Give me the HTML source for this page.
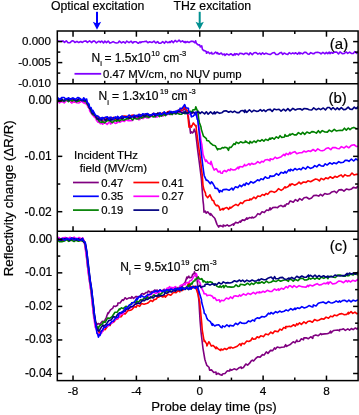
<!DOCTYPE html>
<html><head><meta charset="utf-8"><style>
html,body{margin:0;padding:0;background:#fff;}
svg{display:block;font-family:"Liberation Sans", sans-serif;}
text{stroke:#000;stroke-width:0.2px;}
</style></head><body>
<svg width="359" height="415" viewBox="0 0 359 415">
<rect width="359" height="415" fill="#fff"/>
<defs><clipPath id="ca"><rect x="57.3" y="31.0" width="300.8" height="52.8"/></clipPath><clipPath id="cb"><rect x="57.3" y="83.8" width="300.8" height="147.39999999999998"/></clipPath><clipPath id="cc"><rect x="57.3" y="231.2" width="300.8" height="149.40000000000003"/></clipPath><filter id="gs" x="0" y="0" width="359" height="415" filterUnits="userSpaceOnUse"><feOffset dx="0" dy="0"/></filter></defs>
<polyline points="57.30,40.72 58.77,41.24 60.88,41.25 62.92,40.92 64.50,42.36 66.30,40.84 68.05,42.81 69.99,42.63 72.05,40.87 73.48,41.00 74.86,42.50 76.96,41.40 78.70,42.56 80.74,41.50 82.09,42.47 83.84,41.34 85.84,40.91 87.39,42.43 89.59,40.86 91.76,42.55 93.13,41.12 94.51,40.93 96.34,42.99 98.54,41.29 100.00,41.49 100.23,42.40 101.78,40.98 103.51,42.93 104.88,41.05 106.43,42.62 108.18,41.04 109.97,43.11 111.53,42.49 113.09,41.66 114.64,42.46 116.40,43.02 118.01,42.68 119.38,41.16 121.48,42.88 123.33,41.72 125.26,43.14 126.78,41.09 129.02,42.69 131.15,41.19 132.61,43.01 134.26,41.75 136.25,41.82 138.25,43.28 140.00,41.78 140.44,42.72 142.17,41.79 144.26,41.58 146.22,41.17 147.84,42.73 149.72,41.79 151.86,42.56 153.98,41.11 155.78,42.99 157.66,41.63 159.04,43.23 160.61,43.28 162.68,41.70 164.40,43.28 165.91,41.34 167.75,42.73 169.73,41.63 170.00,42.59 171.69,40.89 173.38,42.58 175.12,40.46 176.93,41.84 178.98,40.43 179.00,39.98 180.80,41.89 182.50,40.81 184.29,42.40 185.00,41.48 185.67,42.74 187.06,41.57 189.04,42.48 191.28,41.17 193.16,41.40 194.87,42.76 195.60,40.74 196.37,43.38 198.17,44.94 199.50,44.69 200.41,46.84 201.70,45.78 202.45,49.37 203.90,50.73 204.28,50.53 206.20,51.42 206.41,53.28 207.97,51.90 209.78,53.61 211.70,52.38 211.99,53.98 213.86,53.69 215.62,51.98 217.21,53.63 217.30,52.47 219.06,54.17 221.27,53.00 222.62,54.64 224.68,54.01 225.00,55.47 226.77,53.86 228.91,55.01 230.93,53.76 233.01,55.33 234.83,53.64 235.00,55.01 236.68,53.71 238.41,54.97 239.81,53.22 241.95,53.59 243.81,54.40 245.34,53.22 247.14,53.40 248.93,54.77 250.00,52.84 250.60,53.08 252.26,54.58 254.10,52.69 256.01,52.59 257.91,54.12 259.67,53.14 261.05,54.55 262.60,52.77 264.11,54.21 265.99,53.15 268.11,53.95 270.18,54.53 272.25,53.03 274.34,52.49 275.92,54.47 278.02,54.37 279.98,52.85 281.40,52.43 282.77,54.45 284.13,53.04 286.16,53.91 287.74,54.54 289.19,52.67 291.10,53.87 292.76,52.92 294.17,53.77 295.66,52.76 297.49,54.23 298.99,52.43 300.00,53.95 300.59,52.85 302.58,53.89 304.33,52.40 305.97,52.24 307.75,54.00 309.12,54.20 310.82,52.63 312.55,53.65 314.07,53.63 315.52,52.44 317.68,52.25 319.49,52.70 321.02,53.89 322.92,52.38 325.00,53.80 326.37,52.38 327.74,53.59 329.22,52.08 330.00,53.71 331.22,52.36 332.71,53.29 334.70,52.14 336.66,51.94 338.50,53.97 340.04,51.88 342.27,53.73 344.34,53.36 346.16,51.96 347.71,53.35 349.64,52.09 351.35,53.34 353.21,53.45 354.85,51.62 356.77,53.33 358.00,51.78" fill="none" stroke="#8000ff" stroke-width="1.6" stroke-linejoin="round" clip-path="url(#ca)"/>
<polyline points="57.30,101.58 59.58,99.30 61.70,101.23 63.99,100.86 65.86,99.84 68.41,100.88 70.96,99.00 73.33,99.49 75.16,101.32 77.38,99.52 79.39,101.20 81.32,99.58 83.80,101.26 84.01,99.49 86.70,100.92 86.76,102.68 88.46,105.27 89.60,108.72 91.06,109.44 92.50,113.55 93.37,113.09 95.44,117.06 95.50,115.80 97.40,118.90 98.40,118.08 99.79,120.24 101.95,118.60 102.30,120.91 104.35,121.07 106.73,119.29 108.53,118.57 110.00,120.39 111.02,118.53 113.75,119.97 116.47,118.51 117.00,120.11 118.79,119.40 120.49,117.37 122.14,119.35 123.94,116.97 126.63,117.55 128.61,118.90 130.66,116.65 133.30,116.14 135.30,116.32 137.55,117.79 139.68,115.63 140.00,115.75 141.40,116.91 143.69,115.19 146.27,114.57 148.10,116.92 149.99,114.79 152.10,116.21 153.79,114.60 155.98,113.87 158.53,115.69 160.00,115.05 160.91,115.53 163.14,113.22 165.73,114.38 167.55,113.07 169.82,112.76 170.00,114.21 171.88,114.26 174.20,112.22 175.97,113.24 176.00,111.55 178.47,112.31 180.23,110.30 182.06,111.49 184.60,108.23 185.00,109.70 187.29,111.52 188.00,114.07 189.42,123.66 190.50,133.15 191.53,131.91 192.50,132.86 193.45,131.90 194.30,129.14 195.40,132.35 195.50,131.33 197.73,150.42 199.57,164.52 201.00,175.95 201.35,178.50 203.00,200.53 203.51,204.69 204.00,212.17 205.34,211.14 206.20,213.19 207.70,211.81 210.25,215.06 210.60,213.54 212.76,216.22 214.30,217.80 214.94,218.63 216.97,224.37 218.70,227.15 219.10,225.88 220.75,225.65 223.00,226.85 223.19,225.10 225.20,225.98 227.20,224.84 228.94,226.09 231.08,225.17 233.37,223.92 233.50,225.29 235.45,222.36 238.06,223.04 240.20,220.99 240.45,222.10 242.37,219.90 244.60,220.35 246.90,217.87 247.25,219.24 249.47,217.53 251.78,218.06 252.00,217.00 253.50,217.91 255.69,216.65 257.85,213.63 259.94,214.56 262.05,211.73 264.34,212.58 266.59,209.94 268.77,210.51 270.00,207.73 270.61,209.77 272.74,207.65 275.46,207.19 277.56,207.70 279.25,206.13 280.91,205.43 283.15,206.79 284.85,205.20 285.00,206.44 286.60,203.88 288.37,204.07 290.00,201.10 290.52,200.99 293.26,202.25 295.45,199.55 297.60,201.12 299.73,198.57 301.93,200.09 304.08,197.77 306.52,197.29 309.16,199.04 311.58,197.99 313.70,195.59 316.06,195.17 318.71,196.08 320.53,194.42 322.44,195.87 324.77,193.53 327.18,194.31 329.53,193.83 331.83,191.97 334.39,191.21 336.57,192.79 339.11,189.83 341.82,189.62 343.95,191.19 346.54,188.94 348.98,189.71 351.61,188.90 353.31,187.39 355.96,188.09 358.00,186.21" fill="none" stroke="#800080" stroke-width="1.6" stroke-linejoin="round" clip-path="url(#cb)"/>
<polyline points="57.30,100.37 59.45,101.45 61.71,100.27 64.38,101.51 66.54,99.80 68.75,100.01 71.05,101.92 72.90,100.58 75.11,102.22 77.46,99.73 79.98,101.97 81.73,99.95 83.72,102.30 83.80,100.11 85.47,103.25 86.70,101.77 88.01,106.73 89.60,107.79 90.42,108.97 92.11,114.06 92.50,114.51 94.85,115.68 95.50,118.14 97.56,116.65 98.40,116.61 99.93,118.90 102.25,117.77 102.30,119.85 104.08,117.60 105.74,119.59 107.97,118.03 109.69,119.45 110.00,117.37 111.55,118.85 113.46,117.26 115.15,118.65 117.00,118.92 117.31,116.70 119.44,118.67 122.02,116.63 124.24,115.96 126.59,116.19 128.79,117.38 131.17,115.61 133.33,115.07 135.28,117.28 138.03,115.20 140.00,116.18 140.77,114.70 143.35,116.06 145.78,113.83 147.77,113.99 149.68,115.03 151.65,114.85 153.37,113.35 155.87,115.13 157.96,113.31 160.00,114.04 160.54,114.17 162.61,112.89 165.32,113.81 167.90,111.73 169.55,111.26 170.00,113.04 171.43,111.81 174.08,112.97 176.00,111.45 176.25,112.60 178.98,109.90 181.06,110.98 181.80,108.49 182.79,108.58 185.14,106.69 185.20,108.50 187.60,110.78 187.64,113.31 189.00,127.12 189.59,126.96 191.00,125.92 191.33,127.28 193.35,122.96 194.30,124.21 195.80,126.28 196.06,125.45 196.30,129.22 198.55,146.08 200.32,158.24 202.00,173.09 202.25,175.08 203.00,185.55 204.01,189.90 205.50,193.19 205.72,195.27 207.70,197.65 208.25,196.97 210.00,194.86 210.10,195.40 212.36,200.44 213.60,200.55 214.50,203.54 216.36,205.78 217.30,205.26 218.82,206.36 220.20,210.16 220.61,209.87 222.97,208.43 223.00,209.85 224.75,208.33 226.86,207.59 228.74,209.30 230.00,207.16 230.69,208.17 233.41,205.87 235.94,204.39 237.93,205.65 240.00,203.22 240.55,202.54 242.43,203.59 244.52,201.01 247.11,200.29 249.46,200.15 250.00,198.90 251.22,199.76 253.96,197.18 255.85,198.54 257.78,195.96 260.28,196.52 262.29,194.47 264.27,195.34 266.00,193.44 267.75,194.34 270.00,191.73 270.04,191.64 271.96,191.37 274.27,192.36 276.33,191.25 278.47,188.66 281.18,190.32 283.36,188.84 285.00,186.75 285.64,187.88 288.25,186.56 290.00,184.20 290.10,185.70 291.92,183.80 294.57,185.15 297.12,183.99 299.04,182.09 300.90,183.87 303.36,181.99 306.05,182.41 307.91,180.81 310.61,181.74 313.23,180.20 315.54,179.09 317.66,179.55 319.42,180.98 321.11,178.35 323.82,179.80 325.73,177.88 328.16,178.65 330.09,176.76 332.65,178.29 334.95,176.34 336.93,177.30 338.77,176.05 341.21,174.92 342.94,176.92 344.84,174.67 347.10,175.89 349.69,175.73 352.02,172.99 353.98,174.98 356.64,174.19 358.00,174.39" fill="none" stroke="#ff0000" stroke-width="1.6" stroke-linejoin="round" clip-path="url(#cb)"/>
<polyline points="57.30,100.79 59.47,102.92 61.85,101.27 64.23,102.90 66.04,100.96 67.70,100.88 69.76,100.78 71.71,103.11 74.25,101.52 76.66,102.67 78.97,103.02 81.24,101.04 83.61,102.88 83.80,101.25 85.42,103.77 86.70,102.79 87.56,106.05 89.39,108.34 89.60,110.79 92.03,114.54 92.50,113.77 93.75,116.65 95.50,117.50 96.30,120.05 98.03,122.26 98.40,121.76 100.44,123.65 102.30,122.07 102.46,124.32 104.55,122.46 107.13,124.39 108.80,122.41 110.00,122.05 110.52,124.00 113.17,121.97 115.38,123.37 117.00,123.02 117.13,121.40 119.87,122.35 122.56,120.51 124.33,121.46 126.45,119.72 128.25,120.74 130.24,120.64 132.58,120.54 134.41,118.13 136.82,118.24 138.53,119.62 140.00,119.35 140.37,117.59 142.91,118.59 145.00,116.91 147.12,118.07 149.42,117.51 151.60,116.01 153.67,115.45 155.35,117.21 157.80,116.82 160.00,114.29 160.52,115.77 163.24,115.94 165.62,113.19 167.66,114.69 169.71,113.12 170.00,114.66 172.12,112.77 174.51,113.68 176.00,113.74 176.29,111.78 178.19,113.53 180.24,111.68 182.46,111.73 185.00,113.32 187.20,112.44 188.88,114.57 191.40,113.86 191.43,113.65 193.56,112.65 194.00,112.49 195.78,113.99 197.30,111.92 197.67,115.45 198.80,125.49 199.79,131.31 201.00,140.62 201.87,144.68 203.00,154.37 204.37,158.33 205.60,161.42 206.13,160.08 208.39,163.24 210.23,162.98 210.30,164.48 211.00,161.33 212.65,166.77 214.20,170.09 214.34,169.79 216.29,168.78 218.32,171.99 220.00,171.20 220.67,172.97 222.38,173.28 223.00,171.56 224.53,170.51 226.41,171.75 228.37,169.66 230.00,170.60 230.55,168.90 233.25,170.00 235.43,169.60 238.13,167.03 238.50,168.76 239.97,166.54 242.63,166.92 244.68,164.40 245.00,165.71 246.54,165.48 249.02,163.63 250.00,165.05 251.67,163.26 253.33,164.29 255.27,163.83 257.77,161.64 259.80,163.05 261.71,161.33 263.37,161.91 265.06,159.94 267.40,159.56 270.00,160.79 270.13,158.80 272.88,159.53 275.08,157.20 276.76,158.39 278.76,157.65 281.28,156.69 283.84,154.30 285.00,155.67 286.20,153.42 288.10,154.64 290.00,152.35 290.33,153.98 292.50,152.60 294.84,151.64 296.78,153.79 299.47,152.74 302.11,152.68 303.94,151.08 305.91,151.91 308.52,150.68 310.47,151.49 313.16,149.50 315.38,151.22 317.79,148.87 320.22,150.43 322.10,150.84 324.07,150.26 326.00,148.61 328.40,147.81 330.81,149.73 332.61,147.54 335.23,147.62 337.34,148.43 339.26,148.80 341.39,146.62 344.12,147.93 346.38,146.08 348.72,147.79 351.38,145.36 354.09,144.74 356.58,146.55 358.00,146.23" fill="none" stroke="#ff00ff" stroke-width="1.6" stroke-linejoin="round" clip-path="url(#cb)"/>
<polyline points="57.30,99.51 59.23,101.43 61.64,99.91 64.04,101.39 66.63,99.42 68.48,101.74 70.38,99.93 72.20,101.02 74.09,99.88 76.55,101.79 78.34,101.03 80.58,100.09 82.46,99.92 83.80,99.71 84.44,101.39 86.56,101.13 86.70,103.23 89.13,106.72 89.60,107.82 91.45,112.46 92.50,114.06 93.12,114.73 95.07,115.33 95.50,115.59 96.88,119.27 98.40,119.77 99.49,121.81 102.03,122.40 102.30,121.36 104.57,122.82 107.13,120.70 109.60,120.41 110.00,120.92 112.29,122.56 114.81,120.44 116.75,121.34 117.00,119.52 119.33,121.14 121.52,119.41 124.00,120.30 126.27,118.88 128.39,118.67 130.44,117.85 132.56,120.02 134.56,117.63 136.34,119.03 138.89,118.75 140.00,117.00 141.42,118.11 144.15,116.78 146.56,116.35 148.82,117.54 151.30,115.11 153.09,116.95 155.49,116.36 157.63,114.53 159.47,116.54 160.00,114.04 161.34,116.17 163.57,114.25 165.50,115.64 167.65,113.26 169.97,114.37 170.00,113.36 172.05,114.61 173.85,112.74 176.00,114.13 176.04,111.88 177.95,113.56 179.86,114.30 181.72,114.18 183.77,111.97 185.00,113.93 185.50,112.42 187.87,113.52 190.57,111.23 192.00,112.86 192.65,110.08 195.09,109.63 195.80,106.79 197.50,111.24 197.76,110.48 199.00,121.00 199.46,122.74 201.00,127.04 201.27,129.11 203.40,136.10 203.80,136.40 206.38,138.61 206.70,140.46 208.73,140.86 210.56,143.29 211.70,143.98 212.66,145.02 215.27,145.69 217.60,149.79 217.89,148.76 220.42,149.06 222.30,147.52 223.40,148.03 224.89,147.19 226.95,147.79 228.50,150.33 229.39,147.35 231.19,147.37 233.91,143.67 235.20,144.50 236.22,142.17 238.66,143.52 240.55,141.74 242.88,142.83 245.17,142.15 245.20,141.02 247.47,142.51 249.51,143.67 250.00,141.37 251.96,142.82 253.99,140.99 255.96,142.46 257.79,140.33 260.20,141.27 261.97,139.62 263.87,141.20 265.59,139.21 267.95,140.40 270.00,138.13 270.21,139.25 272.46,137.76 274.15,139.23 276.29,136.84 278.31,138.20 280.07,135.69 281.72,137.36 284.47,136.93 285.00,134.61 286.25,136.29 288.23,135.88 290.00,134.09 290.18,135.18 292.48,133.62 294.22,134.86 296.39,134.84 298.44,132.62 301.01,134.36 302.66,132.28 304.68,134.34 306.88,132.04 309.60,133.29 311.81,131.64 313.99,131.85 316.37,133.12 318.35,130.71 320.03,132.81 322.23,130.61 324.89,132.02 327.35,132.10 329.28,130.09 331.68,131.66 334.27,129.35 336.20,130.98 338.50,130.52 340.54,130.29 342.46,130.56 344.43,128.22 346.30,130.14 348.34,127.98 350.03,129.55 352.12,127.97 353.86,127.40 356.34,128.78 358.00,128.77" fill="none" stroke="#008000" stroke-width="1.6" stroke-linejoin="round" clip-path="url(#cb)"/>
<polyline points="57.30,98.98 59.07,100.09 61.49,98.51 63.86,100.74 66.54,98.60 68.49,100.26 70.42,98.68 72.88,98.32 75.25,100.51 77.24,100.38 79.64,98.32 81.73,100.78 83.80,100.64 84.23,100.22 86.01,100.20 86.70,102.04 87.91,103.41 89.60,108.40 90.55,108.00 92.50,113.37 92.59,111.20 94.53,114.93 95.50,116.30 97.06,118.39 98.40,119.57 99.41,117.84 101.22,120.29 102.30,118.79 103.48,118.16 105.86,120.52 107.69,118.08 110.00,120.41 110.06,118.41 111.84,120.13 113.86,117.80 115.61,117.87 117.00,118.92 117.48,119.27 120.21,117.29 122.30,118.52 125.04,117.00 127.17,116.78 129.49,118.32 132.10,116.44 134.51,117.61 136.28,115.31 138.58,116.75 140.00,115.04 140.92,116.47 142.77,114.70 144.53,116.49 147.14,114.21 149.35,115.91 151.22,115.55 153.37,113.69 155.26,115.64 157.78,113.01 159.98,114.53 160.00,112.99 161.75,114.76 164.30,112.22 166.05,114.39 168.00,112.19 169.69,113.35 170.00,111.59 172.15,113.38 173.92,111.53 176.00,113.01 176.15,113.20 177.91,111.21 180.08,111.61 182.49,113.11 184.73,113.04 185.00,111.39 186.88,113.73 189.06,111.89 191.19,113.20 193.50,111.99 195.25,113.93 197.42,111.78 199.33,112.37 200.00,113.58 201.93,111.93 204.62,113.88 206.34,111.82 208.15,114.15 210.57,111.93 212.85,113.90 214.52,111.79 215.00,113.82 216.95,111.98 219.63,113.33 221.75,112.75 222.00,112.70 223.78,111.13 226.06,110.76 228.74,112.19 230.68,111.29 232.66,112.36 234.52,111.08 236.86,112.59 239.03,112.63 240.96,110.79 243.04,110.49 244.73,112.35 245.00,109.94 246.72,112.39 249.45,109.79 251.75,111.98 253.71,110.28 256.39,111.34 258.43,111.22 260.36,109.69 262.05,111.18 263.86,109.93 265.73,111.53 267.63,109.72 270.24,109.40 272.18,111.50 274.10,109.04 276.42,109.69 279.08,109.22 281.05,111.17 283.53,109.22 285.59,110.95 287.86,108.64 290.00,110.88 290.16,110.84 292.85,108.32 295.33,109.99 297.54,109.03 300.12,108.71 302.17,110.00 304.24,108.43 306.95,108.85 309.20,109.82 311.70,109.94 313.70,107.87 316.35,109.80 318.68,108.40 320.60,109.62 323.28,108.00 325.44,109.93 327.46,107.57 329.40,107.55 331.17,109.56 333.04,107.54 335.45,109.74 337.25,107.90 339.19,109.64 341.33,107.70 343.58,109.64 345.65,109.45 348.16,107.17 350.09,109.13 352.15,109.48 354.27,107.10 356.06,108.67 357.95,106.96 358.00,108.89" fill="none" stroke="#000080" stroke-width="1.6" stroke-linejoin="round" clip-path="url(#cb)"/>
<polyline points="57.30,97.39 60.01,99.60 61.67,97.51 64.13,97.51 65.96,99.39 68.69,97.77 70.36,99.40 72.98,98.00 75.38,99.31 77.97,97.47 80.72,99.20 82.64,99.79 83.80,97.74 84.66,99.54 86.70,99.00 87.09,102.33 89.04,104.04 89.60,107.28 90.98,107.58 92.50,112.15 92.89,110.37 95.48,115.21 95.50,115.14 98.09,116.25 98.40,116.57 100.62,118.66 102.30,117.38 102.51,119.13 105.18,117.39 107.39,116.86 109.30,119.36 110.00,117.41 111.45,117.42 113.56,119.07 115.30,116.81 117.00,118.26 117.57,116.30 119.62,118.33 121.89,116.01 124.57,117.25 126.93,117.27 129.02,114.99 131.62,116.87 134.37,115.14 136.56,116.37 139.24,114.23 140.00,115.86 140.92,115.89 142.72,113.75 144.56,114.26 147.24,113.50 149.65,115.21 152.09,114.60 154.06,113.29 156.25,114.95 158.88,114.44 160.00,112.61 160.64,114.23 162.41,114.12 164.12,111.94 166.28,113.79 168.86,113.47 170.00,111.51 171.12,111.43 173.21,112.48 175.41,111.25 176.00,112.40 177.26,110.46 179.95,110.06 180.00,108.39 181.99,108.48 183.90,105.74 184.70,104.56 185.89,107.85 188.45,108.30 188.50,110.47 190.45,112.73 191.40,116.86 193.09,116.33 193.80,115.31 195.11,114.75 195.80,112.07 197.25,119.32 197.60,119.01 198.98,130.76 200.00,141.17 201.63,155.97 203.30,169.23 204.16,175.47 204.80,176.90 206.33,180.33 207.00,180.06 208.10,180.96 210.30,183.72 210.60,183.67 211.40,181.79 212.36,182.67 214.93,187.07 215.00,188.12 217.60,188.63 219.50,192.32 220.07,190.40 222.04,191.69 223.00,189.72 223.73,189.62 226.36,189.33 229.05,190.26 230.88,188.83 231.80,188.03 233.08,189.96 235.26,186.84 237.98,187.64 239.68,185.15 241.40,186.58 243.97,184.12 245.00,185.46 246.25,182.86 248.41,184.44 250.91,181.61 253.22,183.03 255.63,181.50 257.56,179.82 259.30,180.73 260.96,178.75 262.98,179.63 265.34,176.85 267.41,178.30 269.44,177.68 270.00,175.83 271.77,176.36 274.20,175.88 276.50,173.47 278.50,175.27 281.05,172.35 283.58,173.20 285.00,171.41 286.21,173.00 288.85,169.82 290.00,171.05 290.51,169.30 292.90,170.62 294.93,168.47 297.01,169.88 299.23,168.62 301.04,169.77 302.96,167.38 305.70,169.08 307.71,166.56 310.37,168.44 312.77,167.61 314.76,165.59 316.76,166.92 319.08,164.47 321.50,166.06 323.53,166.09 325.24,163.85 327.08,165.05 329.68,162.80 332.13,164.15 333.90,162.71 336.47,163.69 338.75,161.65 340.77,162.76 343.40,162.24 345.19,160.36 346.95,160.29 348.98,161.33 351.44,159.03 353.69,161.01 355.88,158.89 358.00,160.41" fill="none" stroke="#0000ff" stroke-width="1.6" stroke-linejoin="round" clip-path="url(#cb)"/>
<polyline points="57.30,238.50 59.54,240.47 61.51,238.88 63.19,239.99 65.56,238.55 67.44,239.98 69.38,238.64 71.46,240.41 73.82,239.00 76.56,240.10 78.72,238.79 81.46,240.55 82.80,240.51 84.20,241.63 84.60,243.99 86.12,252.06 86.20,252.58 87.85,268.97 88.20,269.92 89.67,282.06 90.20,284.40 91.20,293.01 92.25,300.75 93.40,313.02 94.56,317.79 95.00,321.97 96.60,323.43 97.22,324.68 98.40,323.50 99.94,324.26 102.31,321.30 103.90,321.70 104.55,320.82 106.27,317.51 107.95,312.84 108.10,313.72 110.48,309.87 112.87,308.05 113.70,305.98 115.36,306.43 117.63,305.22 117.90,303.02 120.02,303.04 122.38,299.73 123.40,300.39 125.00,297.96 125.01,297.72 126.78,299.14 128.98,297.82 130.97,298.33 131.80,296.61 133.53,298.43 136.10,296.43 136.14,296.41 138.07,296.90 139.81,296.20 141.73,293.85 142.80,293.50 143.72,294.44 146.22,292.38 147.30,292.87 148.32,290.98 150.80,292.44 151.70,291.61 152.78,291.73 155.00,290.00 156.20,292.13 156.86,289.97 159.22,291.58 160.00,289.86 161.43,291.45 164.03,289.26 166.72,290.59 168.95,289.00 170.00,290.28 170.67,288.45 173.35,289.46 176.04,287.96 178.21,287.56 180.00,289.04 180.40,286.91 182.50,286.18 183.07,284.49 185.00,282.69 186.90,277.12 186.93,278.66 188.80,276.14 189.35,277.65 190.70,277.63 191.74,277.16 192.60,274.51 194.15,273.46 194.40,271.84 196.30,276.32 196.71,278.17 197.60,283.93 198.60,298.02 198.92,301.25 200.10,320.97 201.03,331.87 202.30,342.77 202.93,348.02 204.82,359.25 205.50,361.49 206.87,365.45 209.00,367.24 209.60,370.20 211.46,369.88 213.79,372.45 216.00,372.05 216.30,374.42 218.07,373.28 220.41,374.75 222.00,375.30 222.48,373.92 225.01,373.41 227.37,370.77 229.78,370.95 230.00,369.34 231.84,370.16 234.06,368.86 236.50,369.77 239.21,367.72 241.00,366.93 241.44,368.37 243.44,367.42 245.85,363.97 247.63,365.13 249.65,363.20 251.33,360.80 252.30,360.18 253.59,360.97 255.52,358.71 257.60,356.81 260.12,357.14 262.47,354.60 263.40,354.94 264.16,355.07 266.30,351.89 267.95,353.37 270.51,350.36 272.71,350.62 274.50,347.92 275.29,349.15 277.23,347.03 279.79,347.86 281.59,347.21 284.19,346.97 285.70,344.66 286.27,346.43 288.00,345.59 290.66,344.17 293.23,341.74 295.09,342.91 296.80,340.06 297.38,341.48 299.55,341.19 301.36,338.80 303.48,339.83 303.90,337.85 306.20,337.76 308.27,338.79 310.75,336.75 312.80,338.33 313.24,335.97 315.73,334.96 318.06,335.80 320.70,333.65 321.70,334.59 322.73,334.08 324.90,333.85 327.04,333.81 328.81,333.31 330.70,331.01 330.99,333.03 333.48,330.45 335.76,330.22 337.61,330.07 339.53,330.85 339.60,329.55 341.71,329.52 343.47,328.84 345.34,330.41 347.81,328.92 349.58,330.20 351.35,328.46 353.18,329.58 355.40,327.97 357.07,329.10 358.00,327.64" fill="none" stroke="#800080" stroke-width="1.6" stroke-linejoin="round" clip-path="url(#cc)"/>
<polyline points="57.30,239.08 58.96,240.61 60.74,238.79 62.82,240.85 65.22,238.92 67.02,239.22 68.80,240.84 70.70,239.10 73.19,239.12 75.00,240.34 77.46,238.85 79.84,240.81 81.64,239.23 82.80,240.56 83.88,240.16 85.10,243.51 86.02,247.98 86.70,253.76 88.13,265.51 88.70,272.00 90.70,284.27 90.87,287.22 91.70,291.44 92.63,301.53 93.90,311.37 94.30,315.34 95.50,321.33 96.80,330.15 96.98,328.49 99.07,332.01 99.30,333.93 100.94,331.12 102.96,331.08 103.00,329.05 105.01,329.73 107.71,326.00 109.59,324.26 110.00,325.57 111.48,322.51 113.77,322.10 116.02,319.33 118.00,318.81 118.72,317.01 121.30,316.68 123.34,313.42 125.00,313.94 125.21,313.94 127.78,310.78 130.52,310.30 132.20,309.32 134.66,306.39 136.10,307.39 137.27,305.09 139.63,306.38 141.52,303.60 144.05,304.27 146.50,303.59 147.30,303.28 148.36,302.75 150.72,300.41 152.61,301.43 154.00,299.51 154.31,299.86 156.33,299.09 158.34,295.59 158.40,297.32 160.43,295.82 162.79,297.02 165.00,295.65 165.36,297.20 168.07,294.14 170.79,295.21 173.54,292.22 176.05,292.80 178.04,290.65 179.89,291.81 180.00,290.06 182.22,290.52 184.47,288.59 185.00,288.18 186.86,286.92 188.62,283.17 188.80,282.70 190.48,287.10 191.00,286.42 193.14,288.02 194.00,286.18 195.45,286.98 196.50,289.42 197.40,292.52 197.87,293.82 199.60,301.45 199.62,301.10 201.71,323.02 202.30,330.47 204.20,341.56 204.36,340.03 206.73,344.10 206.90,345.92 208.80,341.73 209.47,342.49 211.34,346.16 212.30,345.65 213.49,345.67 216.02,348.62 216.30,347.00 218.16,348.83 220.67,350.53 221.00,349.09 222.94,349.92 224.72,348.45 226.48,349.55 229.21,347.26 230.00,348.30 230.99,347.08 232.86,348.12 234.87,347.29 237.31,346.24 239.90,343.74 241.00,345.64 242.07,343.26 244.27,343.98 246.79,341.05 248.74,341.49 250.80,340.48 252.30,337.96 253.13,339.10 255.48,338.87 257.17,336.80 258.94,337.68 260.74,335.84 263.19,336.58 263.40,336.77 265.60,333.96 268.32,334.82 270.82,332.14 272.75,333.48 274.50,331.16 275.24,331.15 277.97,331.70 280.01,329.10 281.67,330.13 283.73,327.57 285.69,328.37 285.70,326.62 287.54,326.66 289.24,326.15 291.02,326.71 293.63,324.75 295.33,326.10 296.80,323.59 297.66,324.91 299.53,322.79 301.40,324.44 303.95,321.91 305.93,323.37 307.78,321.50 309.93,321.04 312.34,322.30 312.80,321.70 314.57,319.60 317.17,320.77 319.26,320.04 321.48,318.60 323.92,319.17 326.08,317.13 328.52,318.20 330.68,316.02 330.70,316.30 332.48,316.80 334.27,315.09 336.78,315.79 339.25,314.15 341.93,313.64 344.34,314.72 346.63,314.41 348.46,312.31 348.50,313.99 351.05,311.62 352.83,313.42 354.95,312.05 356.75,313.59 358.00,313.45" fill="none" stroke="#ff0000" stroke-width="1.6" stroke-linejoin="round" clip-path="url(#cc)"/>
<polyline points="57.30,237.11 59.04,237.73 60.92,239.26 62.90,237.78 65.54,237.42 67.74,238.68 70.18,237.31 71.94,238.73 74.15,237.17 76.73,239.06 78.95,237.50 81.64,238.89 82.80,237.77 84.26,243.28 84.40,241.93 86.00,254.17 86.32,256.47 87.97,269.89 88.00,271.81 90.00,284.59 90.45,289.10 91.00,290.87 92.24,304.47 93.20,311.64 93.80,318.49 93.90,317.86 95.20,327.16 96.36,329.19 97.20,333.42 98.60,335.61 98.93,333.97 100.50,333.88 101.50,333.05 104.20,327.89 105.00,327.04 106.07,326.49 107.81,326.40 109.60,323.30 112.32,323.03 114.10,319.80 115.00,320.37 115.92,318.58 117.59,318.54 119.30,316.73 120.99,313.72 123.03,313.87 124.86,310.70 125.00,311.65 126.85,308.81 129.52,308.79 131.35,307.08 133.90,305.86 136.10,302.40 136.36,303.72 138.64,302.60 140.92,299.74 143.42,299.37 145.00,298.02 145.71,296.40 147.62,297.29 149.63,294.04 151.55,294.69 152.90,292.41 153.64,292.60 156.37,293.53 158.40,291.64 158.49,292.72 160.22,291.28 162.39,291.73 164.94,289.87 165.00,291.16 167.08,288.15 168.40,287.93 169.50,286.68 171.25,288.35 171.80,287.31 172.97,288.20 175.35,286.68 177.05,288.18 179.03,287.97 180.00,285.84 181.11,285.21 182.97,284.47 184.66,283.66 185.00,284.97 186.32,282.63 189.01,282.36 190.00,280.61 191.42,280.45 194.12,275.81 196.30,274.97 196.31,273.43 199.01,281.77 200.00,282.88 201.61,288.22 203.80,292.41 203.94,293.59 206.16,293.97 206.90,295.67 208.37,295.22 210.27,295.28 212.34,296.24 213.60,298.34 214.78,297.60 216.65,300.47 219.23,299.74 220.00,302.01 221.44,300.27 223.76,300.76 226.31,298.02 228.67,299.02 230.47,296.92 232.39,298.48 234.05,295.99 235.73,295.91 238.42,296.42 239.50,294.83 240.72,296.05 243.44,293.92 245.95,295.12 247.95,293.23 250.66,294.39 253.33,292.32 255.48,293.83 257.22,292.19 259.00,292.86 259.22,291.72 261.05,292.69 263.10,291.24 264.84,292.18 267.28,290.26 270.01,291.49 271.89,291.36 274.40,288.97 276.69,290.18 278.50,288.83 278.87,290.32 281.52,288.20 283.58,289.22 286.14,286.54 287.83,287.87 289.00,285.90 290.54,285.78 292.39,287.36 294.04,285.64 296.66,287.36 299.10,285.67 301.50,286.62 303.99,287.03 306.05,287.11 307.83,285.23 308.50,286.57 309.83,285.02 312.53,286.01 315.26,284.46 317.16,283.65 319.30,285.08 321.44,284.66 324.09,283.13 325.75,283.73 328.00,282.10 328.31,284.10 330.24,281.77 332.49,283.84 334.28,283.64 336.02,283.18 338.65,281.11 340.85,281.27 343.57,282.69 346.17,280.48 347.50,281.98 348.65,280.51 350.38,282.01 352.68,280.28 355.42,281.27 357.62,279.33 358.00,280.84" fill="none" stroke="#ff00ff" stroke-width="1.6" stroke-linejoin="round" clip-path="url(#cc)"/>
<polyline points="57.30,239.67 59.58,241.79 61.92,241.69 64.47,241.07 66.43,239.62 68.79,241.33 71.42,240.06 74.07,241.48 75.93,240.17 78.30,241.23 80.62,240.26 82.80,241.17 82.83,241.55 85.00,242.10 85.54,246.75 86.60,252.36 87.77,264.10 88.60,269.94 89.91,281.17 90.60,284.80 91.60,292.55 92.60,300.60 93.80,311.35 94.95,320.84 95.60,322.84 96.93,327.89 97.00,326.44 98.60,328.39 98.92,326.58 101.12,324.54 102.82,323.71 103.00,321.90 105.14,322.24 107.60,318.16 108.00,317.91 109.72,318.29 112.30,316.26 114.97,312.31 117.23,312.13 119.30,308.86 119.63,309.77 121.41,307.82 123.12,308.62 125.85,306.40 127.81,306.87 128.00,307.13 129.70,304.79 132.34,302.82 134.81,302.08 136.10,303.15 136.60,300.90 138.60,302.08 140.52,299.71 142.47,300.34 144.12,297.95 146.35,298.75 147.30,296.72 148.34,298.55 150.42,297.97 152.27,296.85 154.04,294.74 155.73,296.16 158.34,295.66 158.40,294.04 160.81,294.10 163.08,291.92 164.86,290.85 165.00,292.75 166.68,290.44 168.46,291.56 170.46,289.51 172.17,289.78 174.12,290.17 176.00,288.73 177.86,288.23 180.00,289.16 180.23,287.96 182.38,289.16 182.50,287.82 184.55,288.37 186.60,287.21 188.80,285.06 188.84,286.84 191.35,283.17 191.90,284.24 193.34,281.15 195.07,280.66 195.10,279.38 197.25,278.75 198.20,276.75 199.32,278.91 201.30,279.11 201.82,278.55 203.20,281.90 203.60,280.56 206.21,282.68 207.60,281.63 207.87,282.59 210.12,281.64 212.26,282.49 212.60,283.85 214.25,284.60 215.00,284.07 216.88,286.24 219.30,287.22 220.00,285.80 221.13,287.40 223.33,285.54 224.00,287.65 225.65,285.30 227.34,286.96 229.08,286.84 231.40,287.12 233.85,286.99 236.01,284.95 238.12,286.49 239.50,286.16 240.33,284.38 242.27,284.55 244.88,285.15 247.59,283.24 249.77,285.00 251.44,283.19 253.53,284.41 256.06,282.10 258.07,283.42 259.00,282.24 259.84,283.17 261.69,281.80 264.12,283.27 266.46,281.13 268.42,282.59 270.76,282.22 273.24,280.70 275.96,281.55 278.50,279.93 278.52,280.05 280.65,281.22 283.19,280.18 285.86,279.71 288.46,281.31 289.00,279.73 290.94,279.13 293.23,281.11 295.45,279.44 298.03,280.66 300.37,278.42 302.81,278.47 304.71,280.02 306.46,279.89 308.41,279.25 308.50,277.72 310.70,279.11 312.98,277.84 314.85,279.18 316.71,277.77 319.40,279.20 321.13,277.02 323.80,278.36 326.30,276.79 328.00,278.65 328.58,276.52 331.33,276.25 333.73,277.24 335.38,277.55 338.07,274.94 340.17,275.09 342.83,276.11 345.37,276.12 347.18,274.38 347.50,275.82 348.87,275.67 350.54,273.96 353.05,275.06 355.57,273.00 357.47,274.80 358.00,274.95" fill="none" stroke="#008000" stroke-width="1.6" stroke-linejoin="round" clip-path="url(#cc)"/>
<polyline points="57.30,238.40 59.53,240.27 61.83,240.11 64.40,238.70 67.04,238.35 69.66,240.52 71.71,238.40 74.41,238.57 76.52,240.12 78.51,238.72 80.26,239.91 82.48,238.41 82.80,240.59 84.30,242.36 85.40,243.73 86.25,247.81 87.00,253.44 88.57,265.96 89.00,270.01 91.00,286.59 91.08,285.00 92.00,293.01 93.55,305.64 94.20,312.52 95.30,319.42 96.00,325.93 97.00,328.56 97.02,330.67 98.40,329.91 98.95,331.22 101.20,327.34 103.00,325.15 103.78,326.29 106.31,324.15 108.98,320.22 110.00,320.41 111.28,319.70 113.63,316.55 115.60,317.41 117.60,314.43 119.47,312.76 121.71,312.96 124.03,310.06 125.00,311.08 126.31,308.78 128.39,309.09 130.51,306.68 132.43,306.78 134.98,304.21 136.10,304.05 137.27,302.98 139.74,303.74 142.29,300.53 144.24,300.82 146.02,299.16 147.30,299.49 147.98,299.11 150.63,296.73 153.15,298.04 155.25,295.68 157.75,296.37 158.40,294.54 159.78,296.09 162.38,295.41 164.13,294.80 165.00,292.59 166.60,293.41 169.32,291.51 171.44,292.10 173.59,290.51 175.39,291.13 177.34,289.16 179.25,290.15 180.00,288.34 181.22,290.56 182.95,288.24 184.93,289.54 186.69,288.04 188.80,289.61 188.92,288.21 191.02,288.91 192.92,286.44 195.00,287.81 195.61,286.21 197.60,287.25 199.83,285.45 201.00,287.50 202.46,286.63 204.95,285.95 205.00,284.43 207.66,283.92 209.98,285.11 212.59,283.71 214.31,285.21 215.00,283.93 216.77,284.71 218.79,282.51 220.79,283.92 222.00,283.49 223.29,281.85 225.75,283.11 227.78,282.62 229.83,283.00 231.79,282.46 234.46,280.80 236.79,281.77 238.73,280.49 239.50,280.03 240.96,281.36 242.67,280.19 244.62,281.83 246.82,280.14 249.54,281.43 252.14,279.97 254.39,281.12 256.88,280.70 258.80,279.34 259.00,280.60 261.22,278.85 263.96,279.71 265.78,279.76 268.46,277.92 271.19,277.06 273.25,279.08 274.60,276.51 275.79,278.78 278.53,278.46 280.34,277.58 282.51,277.41 284.81,279.25 287.33,279.05 289.00,278.03 289.27,279.17 291.75,277.29 294.18,279.00 296.77,276.22 299.23,277.74 301.82,276.01 304.14,277.32 306.39,277.10 308.50,274.97 308.54,276.46 310.64,275.29 312.80,276.85 314.99,275.06 317.07,277.11 318.88,275.51 320.97,276.93 323.66,275.74 325.65,277.22 328.00,276.07 328.38,277.28 330.94,276.59 333.09,276.72 334.98,274.98 337.60,275.73 340.30,275.97 342.29,275.43 344.68,275.61 347.16,273.31 347.50,275.06 349.49,273.00 351.27,274.18 353.18,273.15 355.63,274.18 357.97,272.16 358.00,274.08" fill="none" stroke="#000080" stroke-width="1.6" stroke-linejoin="round" clip-path="url(#cc)"/>
<polyline points="57.30,238.84 59.55,239.86 62.03,238.36 64.50,240.23 67.10,238.53 69.07,239.60 71.78,238.01 74.05,239.89 76.52,238.44 79.01,240.27 81.68,239.92 82.80,238.83 83.63,240.94 85.30,242.54 85.68,246.12 86.90,252.15 88.12,264.63 88.90,270.00 90.42,282.48 90.90,284.66 91.90,291.35 92.89,301.42 94.10,310.99 94.70,318.40 94.94,318.76 96.00,326.68 97.00,333.42 97.64,333.74 98.40,337.16 99.30,334.91 100.00,335.42 101.50,330.49 101.75,331.06 103.00,329.28 103.81,327.35 105.49,327.22 107.88,324.53 109.59,324.77 111.50,321.71 111.80,321.40 113.50,321.15 115.33,318.19 117.16,317.45 118.00,317.17 118.89,314.03 121.47,312.02 123.21,311.91 125.00,309.54 125.04,307.89 126.77,308.20 129.42,305.11 131.67,304.50 131.70,302.81 134.23,302.45 136.95,298.02 137.30,299.67 139.14,296.42 140.60,297.32 141.23,295.30 143.30,296.84 145.24,296.97 147.30,295.18 147.55,294.67 150.26,294.51 152.47,292.09 154.95,291.76 155.10,290.63 157.58,291.83 160.14,289.83 162.53,291.47 164.78,290.20 165.00,291.41 166.54,289.76 168.60,290.56 171.19,289.00 173.33,290.06 175.73,288.38 177.66,289.46 179.95,287.96 180.00,289.62 181.84,287.47 184.36,289.20 186.90,287.10 188.57,289.14 190.00,287.10 190.95,288.93 192.71,286.57 195.40,288.37 197.00,286.50 197.25,286.82 198.80,290.62 199.04,291.80 201.50,299.83 201.67,302.23 204.00,310.85 204.20,313.10 205.66,314.48 206.90,318.37 207.82,319.93 210.38,321.68 212.21,325.39 212.30,323.62 214.69,325.97 216.66,325.03 218.80,324.76 220.88,327.26 222.00,327.70 222.59,325.85 224.67,326.88 226.90,324.78 229.23,326.56 230.00,325.20 231.47,325.63 233.31,325.91 235.62,323.23 237.59,324.57 240.23,322.08 241.99,323.24 244.50,323.38 246.24,323.08 248.51,320.91 250.55,321.69 252.70,319.95 254.50,321.14 255.11,319.17 257.63,317.74 259.29,318.43 261.91,316.51 264.28,316.96 266.04,316.12 268.46,313.16 270.00,313.93 271.00,312.48 273.06,313.90 275.67,311.58 277.50,312.72 279.65,311.07 281.57,312.10 284.13,311.28 286.11,309.91 288.04,310.90 290.79,308.57 292.89,310.02 295.00,308.07 295.05,309.49 297.47,307.81 299.32,308.56 301.86,306.67 304.27,308.04 306.46,307.34 308.99,305.59 311.60,306.66 312.80,306.99 313.36,304.94 316.07,305.93 318.29,303.22 320.80,302.46 321.70,302.39 323.20,302.02 325.90,303.54 328.40,301.52 330.31,302.69 332.12,302.94 334.21,302.32 336.15,300.95 338.05,302.20 339.60,300.83 340.30,302.13 342.50,300.64 344.59,300.18 347.07,301.75 348.88,300.08 351.02,301.92 353.16,300.17 355.48,301.08 358.00,299.71" fill="none" stroke="#0000ff" stroke-width="1.6" stroke-linejoin="round" clip-path="url(#cc)"/>
<g stroke="#000" stroke-width="1.5" fill="none" stroke-linecap="butt">
<rect x="57.3" y="31.0" width="300.8" height="349.6"/>
<line x1="57.3" y1="83.8" x2="358.1" y2="83.8"/>
<line x1="57.3" y1="231.2" x2="358.1" y2="231.2"/>
<line x1="73.03" y1="31.00" x2="73.03" y2="36.70"/>
<line x1="73.03" y1="83.80" x2="73.03" y2="78.80"/>
<line x1="73.03" y1="231.20" x2="73.03" y2="226.20"/>
<line x1="73.03" y1="380.60" x2="73.03" y2="375.60"/>
<line x1="104.71" y1="31.00" x2="104.71" y2="34.00"/>
<line x1="104.71" y1="83.80" x2="104.71" y2="80.80"/>
<line x1="104.71" y1="231.20" x2="104.71" y2="228.20"/>
<line x1="104.71" y1="380.60" x2="104.71" y2="377.60"/>
<line x1="136.39" y1="31.00" x2="136.39" y2="36.70"/>
<line x1="136.39" y1="83.80" x2="136.39" y2="78.80"/>
<line x1="136.39" y1="231.20" x2="136.39" y2="226.20"/>
<line x1="136.39" y1="380.60" x2="136.39" y2="375.60"/>
<line x1="168.07" y1="31.00" x2="168.07" y2="34.00"/>
<line x1="168.07" y1="83.80" x2="168.07" y2="80.80"/>
<line x1="168.07" y1="231.20" x2="168.07" y2="228.20"/>
<line x1="168.07" y1="380.60" x2="168.07" y2="377.60"/>
<line x1="199.75" y1="31.00" x2="199.75" y2="36.70"/>
<line x1="199.75" y1="83.80" x2="199.75" y2="78.80"/>
<line x1="199.75" y1="231.20" x2="199.75" y2="226.20"/>
<line x1="199.75" y1="380.60" x2="199.75" y2="375.60"/>
<line x1="231.43" y1="31.00" x2="231.43" y2="34.00"/>
<line x1="231.43" y1="83.80" x2="231.43" y2="80.80"/>
<line x1="231.43" y1="231.20" x2="231.43" y2="228.20"/>
<line x1="231.43" y1="380.60" x2="231.43" y2="377.60"/>
<line x1="263.11" y1="31.00" x2="263.11" y2="36.70"/>
<line x1="263.11" y1="83.80" x2="263.11" y2="78.80"/>
<line x1="263.11" y1="231.20" x2="263.11" y2="226.20"/>
<line x1="263.11" y1="380.60" x2="263.11" y2="375.60"/>
<line x1="294.79" y1="31.00" x2="294.79" y2="34.00"/>
<line x1="294.79" y1="83.80" x2="294.79" y2="80.80"/>
<line x1="294.79" y1="231.20" x2="294.79" y2="228.20"/>
<line x1="294.79" y1="380.60" x2="294.79" y2="377.60"/>
<line x1="326.47" y1="31.00" x2="326.47" y2="36.70"/>
<line x1="326.47" y1="83.80" x2="326.47" y2="78.80"/>
<line x1="326.47" y1="231.20" x2="326.47" y2="226.20"/>
<line x1="326.47" y1="380.60" x2="326.47" y2="375.60"/>
<line x1="57.30" y1="41.60" x2="62.30" y2="41.60"/>
<line x1="358.10" y1="41.60" x2="353.10" y2="41.60"/>
<line x1="57.30" y1="62.60" x2="62.30" y2="62.60"/>
<line x1="358.10" y1="62.60" x2="353.10" y2="62.60"/>
<line x1="57.30" y1="52.10" x2="60.30" y2="52.10"/>
<line x1="358.10" y1="52.10" x2="355.10" y2="52.10"/>
<line x1="57.30" y1="73.10" x2="60.30" y2="73.10"/>
<line x1="358.10" y1="73.10" x2="355.10" y2="73.10"/>
<line x1="57.30" y1="101.00" x2="62.30" y2="101.00"/>
<line x1="358.10" y1="101.00" x2="353.10" y2="101.00"/>
<line x1="57.30" y1="156.35" x2="62.30" y2="156.35"/>
<line x1="358.10" y1="156.35" x2="353.10" y2="156.35"/>
<line x1="57.30" y1="211.70" x2="62.30" y2="211.70"/>
<line x1="358.10" y1="211.70" x2="353.10" y2="211.70"/>
<line x1="57.30" y1="128.68" x2="60.30" y2="128.68"/>
<line x1="358.10" y1="128.68" x2="355.10" y2="128.68"/>
<line x1="57.30" y1="184.03" x2="60.30" y2="184.03"/>
<line x1="358.10" y1="184.03" x2="355.10" y2="184.03"/>
<line x1="57.30" y1="239.30" x2="62.30" y2="239.30"/>
<line x1="358.10" y1="239.30" x2="353.10" y2="239.30"/>
<line x1="57.30" y1="272.85" x2="62.30" y2="272.85"/>
<line x1="358.10" y1="272.85" x2="353.10" y2="272.85"/>
<line x1="57.30" y1="306.40" x2="62.30" y2="306.40"/>
<line x1="358.10" y1="306.40" x2="353.10" y2="306.40"/>
<line x1="57.30" y1="339.95" x2="62.30" y2="339.95"/>
<line x1="358.10" y1="339.95" x2="353.10" y2="339.95"/>
<line x1="57.30" y1="373.50" x2="62.30" y2="373.50"/>
<line x1="358.10" y1="373.50" x2="353.10" y2="373.50"/>
<line x1="57.30" y1="256.07" x2="60.30" y2="256.07"/>
<line x1="358.10" y1="256.07" x2="355.10" y2="256.07"/>
<line x1="57.30" y1="289.62" x2="60.30" y2="289.62"/>
<line x1="358.10" y1="289.62" x2="355.10" y2="289.62"/>
<line x1="57.30" y1="323.18" x2="60.30" y2="323.18"/>
<line x1="358.10" y1="323.18" x2="355.10" y2="323.18"/>
<line x1="57.30" y1="356.73" x2="60.30" y2="356.73"/>
<line x1="358.10" y1="356.73" x2="355.10" y2="356.73"/>
</g>
<g filter="url(#gs)">
<text x="51.00" y="44.80" font-size="11.6" text-anchor="end" fill="#000" >0.000</text>
<text x="51.00" y="65.80" font-size="11.6" text-anchor="end" fill="#000" >-0.005</text>
<text x="51.00" y="86.80" font-size="11.6" text-anchor="end" fill="#000" >-0.010</text>
<text x="51.80" y="104.00" font-size="12.0" text-anchor="end" fill="#000" >0.00</text>
<text x="51.80" y="160.40" font-size="12.0" text-anchor="end" fill="#000" >-0.01</text>
<text x="51.80" y="216.10" font-size="12.0" text-anchor="end" fill="#000" >-0.02</text>
<text x="52.30" y="242.70" font-size="12.0" text-anchor="end" fill="#000" >0.00</text>
<text x="52.30" y="276.25" font-size="12.0" text-anchor="end" fill="#000" >-0.01</text>
<text x="52.30" y="309.80" font-size="12.0" text-anchor="end" fill="#000" >-0.02</text>
<text x="52.30" y="343.35" font-size="12.0" text-anchor="end" fill="#000" >-0.03</text>
<text x="52.30" y="376.90" font-size="12.0" text-anchor="end" fill="#000" >-0.04</text>
<text x="73.03" y="395.00" font-size="11.8" text-anchor="middle" fill="#000" >-8</text>
<text x="136.39" y="395.00" font-size="11.8" text-anchor="middle" fill="#000" >-4</text>
<text x="199.75" y="395.00" font-size="11.8" text-anchor="middle" fill="#000" >0</text>
<text x="263.11" y="395.00" font-size="11.8" text-anchor="middle" fill="#000" >4</text>
<text x="326.47" y="395.00" font-size="11.8" text-anchor="middle" fill="#000" >8</text>
<text x="214.00" y="411.00" font-size="13.2" text-anchor="middle" fill="#000" >Probe delay time (ps)</text>
<text transform="translate(12.6,198.3) rotate(-90)" font-size="13.3" text-anchor="middle">Reflectivity change (ΔR/R)</text>
<text x="51.00" y="9.80" font-size="12.25" text-anchor="start" fill="#000" >Optical excitation</text>
<text x="173.50" y="9.80" font-size="12.25" text-anchor="start" fill="#000" >THz excitation</text>
<rect x="96.00" y="11.8" width="2.0" height="12.5" fill="#0000ff"/>
<polygon points="97.00,29.7 92.85,21.8 97.00,23.4 101.15,21.8" fill="#0000ff"/>
<rect x="198.70" y="11.8" width="2.0" height="12.5" fill="#009090"/>
<polygon points="199.70,29.7 195.55,21.8 199.70,23.4 203.85,21.8" fill="#009090"/>
<text x="329.80" y="49.00" font-size="15" text-anchor="start" fill="#000" >(a)</text>
<text x="328.40" y="102.60" font-size="15" text-anchor="start" fill="#000" >(b)</text>
<text x="329.80" y="251.00" font-size="15" text-anchor="start" fill="#000" >(c)</text>
<text y="61.60" font-size="12.0"><tspan x="91.40">N</tspan><tspan x="100.20" dy="4.8" font-size="7.5">i</tspan><tspan x="104.40" dy="-4.8">= 1.5x10</tspan><tspan x="151.30" dy="-6" font-size="7.5">10</tspan><tspan x="163.30" dy="6">cm</tspan><tspan x="179.40" dy="-6" font-size="7.5">-3</tspan></text>
<text y="99.70" font-size="12.0"><tspan x="98.40">N</tspan><tspan x="107.20" dy="4.8" font-size="7.5">i</tspan><tspan x="112.00" dy="-4.8">= 1.3x10</tspan><tspan x="160.00" dy="-6" font-size="7.5">19</tspan><tspan x="171.50" dy="6">cm</tspan><tspan x="189.10" dy="-6" font-size="7.5">-3</tspan></text>
<text y="270.60" font-size="12.0"><tspan x="120.20">N</tspan><tspan x="129.10" dy="4.8" font-size="7.5">i</tspan><tspan x="134.10" dy="-4.8">= 9.5x10</tspan><tspan x="181.00" dy="-6" font-size="7.5">19</tspan><tspan x="193.40" dy="6">cm</tspan><tspan x="209.90" dy="-6" font-size="7.5">-3</tspan></text>
<line x1="74.5" y1="73.8" x2="101.2" y2="73.8" stroke="#8000ff" stroke-width="1.8"/>
<text x="102.90" y="77.70" font-size="11.4" text-anchor="start" fill="#000" >0.47 MV/cm, no NUV pump</text>
<text x="74.10" y="158.80" font-size="11.45" text-anchor="start" fill="#000" >Incident THz</text>
<text x="79.80" y="172.20" font-size="11.45" text-anchor="start" fill="#000" >field (MV/cm)</text>
<line x1="73.00" y1="182.50" x2="98.80" y2="182.50" stroke="#800080" stroke-width="1.7"/>
<text x="101.30" y="186.50" font-size="11.3" text-anchor="start" fill="#000" >0.47</text>
<line x1="133.40" y1="182.50" x2="159.20" y2="182.50" stroke="#ff0000" stroke-width="1.7"/>
<text x="161.70" y="186.50" font-size="11.3" text-anchor="start" fill="#000" >0.41</text>
<line x1="73.00" y1="196.30" x2="98.80" y2="196.30" stroke="#0000ff" stroke-width="1.7"/>
<text x="101.30" y="200.30" font-size="11.3" text-anchor="start" fill="#000" >0.35</text>
<line x1="133.40" y1="196.30" x2="159.20" y2="196.30" stroke="#ff00ff" stroke-width="1.7"/>
<text x="161.70" y="200.30" font-size="11.3" text-anchor="start" fill="#000" >0.27</text>
<line x1="73.00" y1="210.10" x2="98.80" y2="210.10" stroke="#008000" stroke-width="1.7"/>
<text x="101.30" y="214.10" font-size="11.3" text-anchor="start" fill="#000" >0.19</text>
<line x1="133.40" y1="210.10" x2="159.20" y2="210.10" stroke="#000080" stroke-width="1.7"/>
<text x="161.70" y="214.10" font-size="11.3" text-anchor="start" fill="#000" >0</text>
</g>
</svg>
</body></html>
